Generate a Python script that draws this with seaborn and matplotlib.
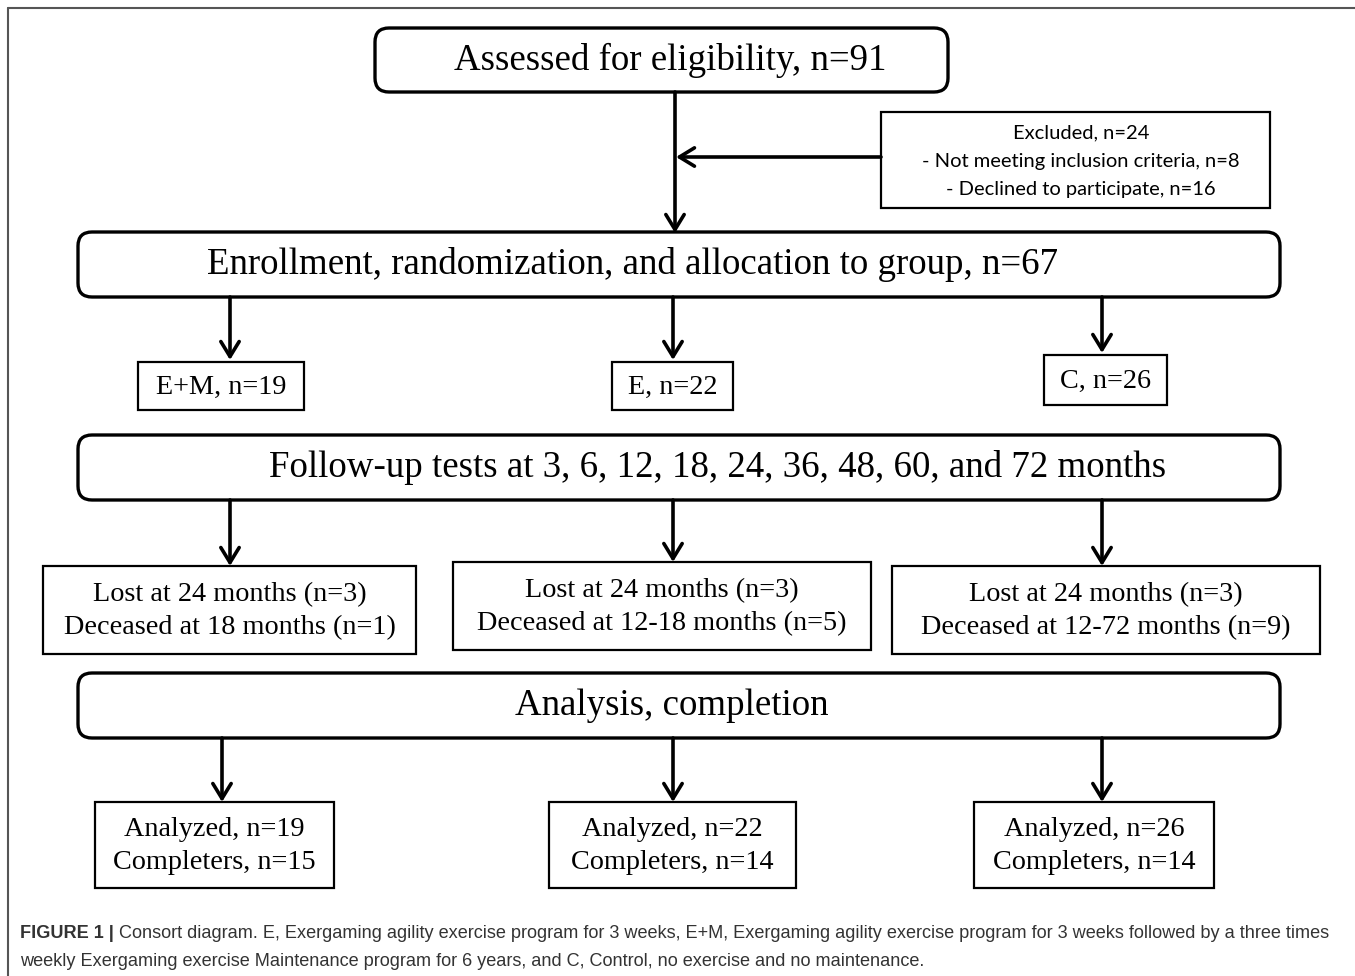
import matplotlib
matplotlib.use("Agg")
import matplotlib.pyplot as plt
import seaborn as sns
from matplotlib.patches import FancyBboxPatch, Rectangle

# ---- data ----
assessed_n = 91
excluded_n = 24
not_meeting_n = 8
declined_n = 16
enrolled_n = 67
groups = ["E+M", "E", "C"]
group_n = [19, 22, 26]
followup_months = [3, 6, 12, 18, 24, 36, 48, 60, 72]
lost_month = 24
lost_n = [3, 3, 3]
deceased_at = ["18", "12-18", "12-72"]
deceased_n = [1, 5, 9]
analyzed_n = [19, 22, 26]
completers_n = [15, 14, 14]

caption_bold = "FIGURE 1 |"
caption_lines = [
    " Consort diagram. E, Exergaming agility exercise program for 3 weeks, E+M, Exergaming agility exercise program for 3 weeks followed by a three times",
    "weekly Exergaming exercise Maintenance program for 6 years, and C, Control, no exercise and no maintenance.",
]

# ---- layout (pixel coordinates) ----
W, H = 1355, 976
serif = "Liberation Serif"
col_x = [230, 673, 1102]

sns.set_theme(style="white")
fig = plt.figure(figsize=(W / 100, H / 100), dpi=100)
ax = fig.add_axes([0, 0, 1, 1])
ax.set_xlim(0, W)
ax.set_ylim(H, 0)
ax.axis("off")


def rbox(x0, y0, x1, y1, text, fs=26.6, tx=None, lw=2.4):
    ax.add_patch(FancyBboxPatch((x0, y0), x1 - x0, y1 - y0,
                                boxstyle="round,pad=0,rounding_size=14",
                                fc="white", ec="black", lw=lw))
    ax.text(tx if tx is not None else (x0 + x1) / 2, (y0 + y1) / 2, text,
            ha="center", va="center", fontsize=fs, family=serif, color="black")


def sbox(x0, y0, x1, y1, text, fs=20.3, family=serif, tx=None, lw=1.6, ls=1.42):
    ax.add_patch(Rectangle((x0, y0), x1 - x0, y1 - y0, fc="white", ec="black", lw=lw))
    ax.text(tx if tx is not None else (x0 + x1) / 2, (y0 + y1) / 2 + 1, text,
            ha="center", va="center", fontsize=fs, family=family,
            linespacing=ls, color="black")


def arrow(x0, y0, x1, y1):
    ax.annotate("", xy=(x1, y1), xytext=(x0, y0),
                arrowprops=dict(arrowstyle="->,head_length=0.9,head_width=0.55",
                                lw=2.6, color="black", shrinkA=0, shrinkB=0))


# outer frame (top and left only)
ax.plot([8, W], [8, 8], color="#555555", lw=1.5)
ax.plot([8, 8], [8, H], color="#555555", lw=1.5)

# top
rbox(375, 28, 948, 92, f"Assessed for eligibility, n={assessed_n}", tx=670)
arrow(675, 92, 675, 233)
sbox(881, 112, 1270, 208,
     f"Excluded, n={excluded_n}\n- Not meeting inclusion criteria, n={not_meeting_n}\n"
     f"- Declined to participate, n={declined_n}",
     fs=14.5, family="Lato", tx=1081, lw=1.6, ls=1.8)
arrow(881, 157, 676, 157)

rbox(78, 232, 1280, 297,
     f"Enrollment, randomization, and allocation to group, n={enrolled_n}", tx=633)

grp_boxes = [(138, 362, 304, 410), (612, 362, 733, 410), (1044, 355, 1167, 405)]
for cx, (x0, y0, x1, y1), g, n in zip(col_x, grp_boxes, groups, group_n):
    arrow(cx, 297, cx, y0 - 2)
    sbox(x0, y0, x1, y1, f"{g}, n={n}")

months_txt = ", ".join(str(m) for m in followup_months[:-1]) + f", and {followup_months[-1]} months"
rbox(78, 435, 1280, 500, f"Follow-up tests at {months_txt}", tx=718)

lost_boxes = [(43, 566, 416, 654), (453, 562, 871, 650), (892, 566, 1320, 654)]
for cx, (x0, y0, x1, y1), ln, da, dn in zip(col_x, lost_boxes, lost_n, deceased_at, deceased_n):
    arrow(cx, 500, cx, y0)
    sbox(x0, y0, x1, y1,
         f"Lost at {lost_month} months (n={ln})\nDeceased at {da} months (n={dn})")

rbox(78, 673, 1280, 738, "Analysis, completion", tx=672)

ana_x = [222, 673, 1102]
ana_boxes = [(95, 802, 334, 888), (549, 802, 796, 888), (974, 802, 1214, 888)]
for cx, (x0, y0, x1, y1), an, cn in zip(ana_x, ana_boxes, analyzed_n, completers_n):
    arrow(cx, 738, cx, y0)
    sbox(x0, y0, x1, y1, f"Analyzed, n={an}\nCompleters, n={cn}")

# caption
cap_fs = 13.1
fig.canvas.draw()
renderer = fig.canvas.get_renderer()
tb = ax.text(20, 933, caption_bold, fontsize=cap_fs, family="Liberation Sans",
             weight="bold", color="#333333", va="center", ha="left")
bb = tb.get_window_extent(renderer)
x_after = ax.transData.inverted().transform((bb.x1, bb.y0))[0]
ax.text(x_after, 933, caption_lines[0], fontsize=cap_fs, family="Liberation Sans",
        color="#333333", va="center", ha="left")
ax.text(20, 962, caption_lines[1], fontsize=cap_fs, family="Liberation Sans",
        color="#333333", va="center", ha="left")

fig.savefig("out.png", dpi=100)
